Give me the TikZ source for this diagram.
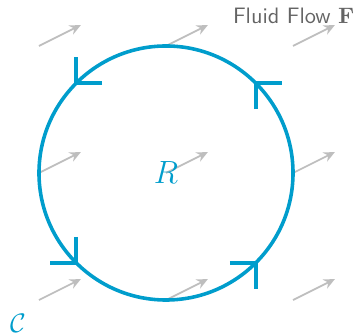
\documentclass[tikz,border=0pt]{standalone}
\usepackage{amsmath}
\usetikzlibrary{decorations.markings,arrows.meta}
\definecolor{loopblue}{RGB}{0,157,204}
\definecolor{flowgray}{RGB}{190,190,190}
\definecolor{labelgray}{RGB}{100,100,100}

\begin{document}
\begin{tikzpicture}[x=1cm,y=1cm,
  flow/.style={draw=flowgray, line width=0.8pt, -{Stealth[length=5pt,width=4.5pt]}},
  loopmark/.style={decoration={markings,
      mark=between positions 0.125 and 0.875 step 0.25 with
        {\draw[loopblue, line width=1.6pt] (-0.29,0.29) -- (0,0) -- (-0.29,-0.29);}},
    postaction={decorate}}]
\useasboundingbox (-2.614,-2.551) rectangle (2.976,2.724);
% vector field
\foreach \x in {-2,0,2}
  \foreach \y in {-2,0,2}
    \draw[flow] (\x,\y) -- ++(0.66,0.33);
% boundary curve
\draw[loopblue, line width=1.6pt, loopmark] (0,0) circle (2);
\node[text=loopblue, font=\Large] (region) at (0,0) {$R$};
\node[text=loopblue, font=\large] (curve) at (-2.33,-2.36) {$\mathcal{C}$};
\node[text=labelgray, anchor=base, font=\sffamily] (flowlabel) at (2.01,2.36) {Fluid Flow $\mathbf{F}$};
\end{tikzpicture}
\end{document}
